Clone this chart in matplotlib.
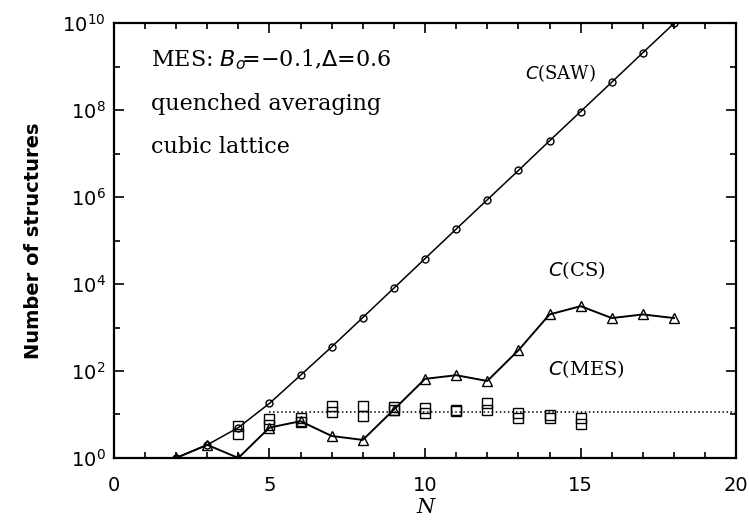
import matplotlib
matplotlib.use("Agg")
import matplotlib.pyplot as plt
from matplotlib.ticker import FixedLocator, NullFormatter

# Data
n_saw = [2, 3, 4, 5, 6, 7, 8, 9, 10, 11, 12, 13, 14, 15, 16, 17, 18]
c_saw = [1, 2, 5, 18, 80, 360, 1700, 8100, 38600, 1.84e5, 8.7e5, 4.1e6,
         1.97e7, 9.3e7, 4.4e8, 2.1e9, 9.9e9]

n_cs = [2, 3, 4, 5, 6, 7, 8, 9, 10, 11, 12, 13, 14, 15, 16, 17, 18]
c_cs = [1, 2, 1, 5, 7, 3.2, 2.6, 13, 66, 80, 59, 300, 2000, 3100, 1650, 2000, 1650]

n_mes = [4, 4, 5, 5, 6, 6, 7, 7, 8, 8, 9, 9, 10, 10, 11, 11, 12, 12, 13, 13, 14, 14, 15, 15]
c_mes = [5.5, 3.5, 8, 5.7, 8.3, 6.7, 16, 11.5, 16, 9.3, 15, 12.6, 14, 10.8,
         13, 12, 18, 12.6, 10.8, 8.3, 9.5, 8.3, 8.3, 6]

mes_avg_x = [5, 20]
mes_avg_y = [11.5, 11.5]

x_ticks = [0, 5, 10, 15, 20]
y_major = [1e0, 1e2, 1e4, 1e6, 1e8, 1e10]
y_minor = [1e1, 1e3, 1e5, 1e7, 1e9]

fig = plt.figure(figsize=(7.49, 5.27), dpi=100)
ax = fig.add_axes([0.152, 0.131, 0.831, 0.825])

ax.plot(n_saw, c_saw, '-', color='black', lw=1.1, marker='o', ms=5,
        mfc='none', mec='black', mew=1.0)
ax.plot(n_cs, c_cs, '-', color='black', lw=1.4, marker='^', ms=7,
        mfc='none', mec='black', mew=1.0)
ax.plot(n_mes, c_mes, 's', ms=7, mfc='none', mec='black', mew=1.0)
ax.plot(mes_avg_x, mes_avg_y, ':', color='black', lw=1.1)

ax.set_yscale('log')
ax.set_xlim(0, 20)
ax.set_ylim(1, 1e10)
ax.xaxis.set_major_locator(FixedLocator(x_ticks))
ax.xaxis.set_minor_locator(FixedLocator(list(range(0, 21))))
ax.yaxis.set_major_locator(FixedLocator(y_major))
ax.yaxis.set_minor_locator(FixedLocator(y_minor))
ax.yaxis.set_minor_formatter(NullFormatter())
ax.set_yticklabels([r'$\mathregular{10^{%d}}$' % e for e in [0, 2, 4, 6, 8, 10]])

ax.tick_params(which='both', direction='in', top=True, right=True,
               labelsize=14, width=1.2)
ax.tick_params(which='major', length=7)
ax.tick_params(which='minor', length=4)
ax.tick_params(axis='x', which='major', pad=13)
ax.tick_params(axis='y', which='major', pad=6)
for s in ax.spines.values():
    s.set_linewidth(1.6)

ax.set_xlabel('N', fontsize=15, fontstyle='italic', family='DejaVu Serif', labelpad=2)
ax.set_ylabel('Number of structures', fontsize=14, fontweight='bold', labelpad=14)

serif = 'DejaVu Serif'
ax.text(0.06, 0.915, r'MES: $B_o\!$=$-$0.1,$\Delta$=0.6', transform=ax.transAxes,
        fontsize=16, family=serif, va='center')
ax.text(0.06, 0.815, 'quenched averaging', transform=ax.transAxes,
        fontsize=16, family=serif, va='center')
ax.text(0.06, 0.715, 'cubic lattice', transform=ax.transAxes,
        fontsize=16, family=serif, va='center')

ax.text(0.66, 0.885, r'$C$(SAW)', transform=ax.transAxes, fontsize=13,
        family=serif, va='center')
ax.text(0.698, 0.432, r'$C$(CS)', transform=ax.transAxes, fontsize=14,
        family=serif, va='center')
ax.text(0.698, 0.205, r'$C$(MES)', transform=ax.transAxes, fontsize=14,
        family=serif, va='center')

fig.savefig('out.png', dpi=100)
